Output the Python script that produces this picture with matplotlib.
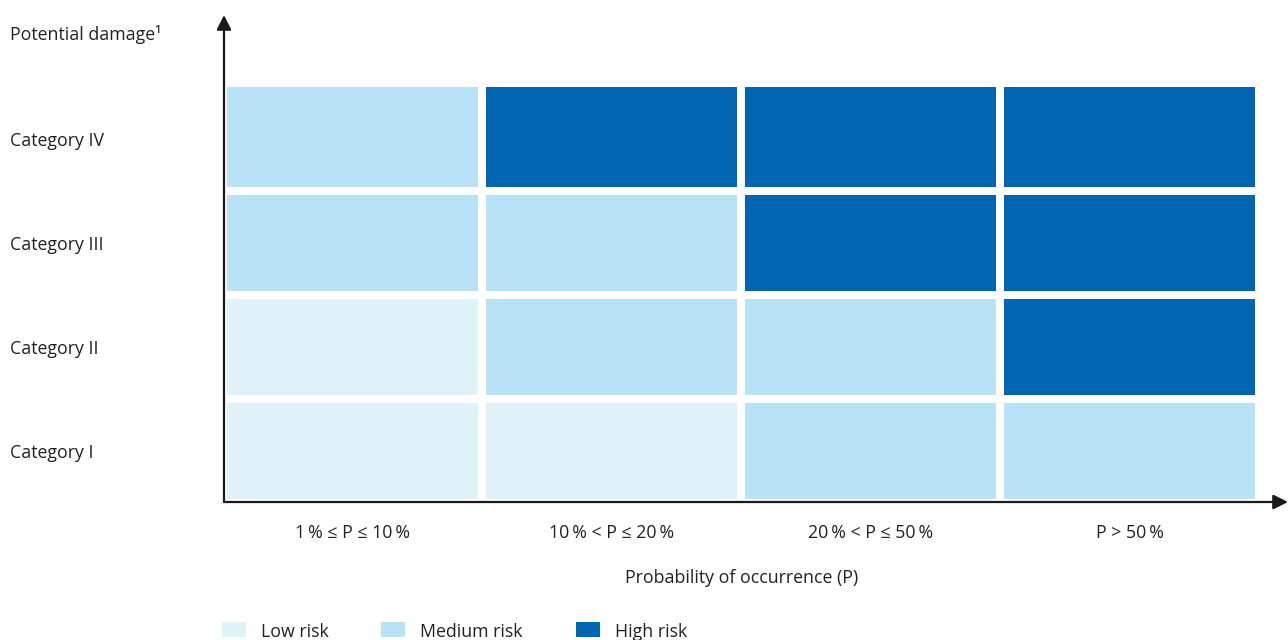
import matplotlib
matplotlib.use("Agg")
import matplotlib.pyplot as plt
from matplotlib.patches import Rectangle

plt.rcParams['font.family'] = ['Open Sans', 'DejaVu Sans']

categories = ["Category I", "Category II", "Category III", "Category IV"]
prob_labels = ["1\u2009% \u2264 P \u2264 10\u2009%", "10\u2009% < P \u2264 20\u2009%",
               "20\u2009% < P \u2264 50\u2009%", "P > 50\u2009%"]
# risk level per category (rows bottom->top) and probability column: 0 low, 1 medium, 2 high
risk = [
    [0, 0, 1, 1],
    [0, 1, 1, 2],
    [1, 1, 2, 2],
    [1, 2, 2, 2],
]
risk_names = ["Low risk", "Medium risk", "High risk"]
risk_colors = ["#dff1f9", "#b8e3f7", "#0066b3"]

W, H = 1288, 640
fig = plt.figure(figsize=(W / 100, H / 100), dpi=100)
x0, y0, x1, y1 = 224, 502, 1288, 15
ax = fig.add_axes([x0 / W, 1 - y0 / H, (x1 - x0) / W, (y0 - y1) / H])
ax.set_xlim(0, (x1 - x0) / 259)
ax.set_ylim(0, (y0 - y1) / 104)
for s in ax.spines.values():
    s.set_visible(False)
ax.set_xticks([])
ax.set_yticks([])

for i, row in enumerate(risk):
    for j, lvl in enumerate(row):
        ax.bar(j + 0.012, 0.925 + (0.04 if i == 3 else 0), width=0.97, bottom=i + 0.03,
               align='edge', color=risk_colors[lvl], linewidth=0)

tc = "#222222"
fs = 12.8
for j, lab in enumerate(prob_labels):
    ax.text(j + 0.497, -0.30, lab, ha='center', va='center', fontsize=fs, color=tc)
ax.text(2.0, -0.73, "Probability of occurrence (P)", ha='center', va='center',
        fontsize=fs, color=tc)
for i, lab in enumerate(categories):
    fig.text(10 / W, 1 - (453 - 104 * i) / H, lab, ha='left', va='center',
             fontsize=fs, color=tc)
fig.text(10 / W, 1 - 34 / H, "Potential damage\u00b9", ha='left', va='center',
         fontsize=fs, color=tc)

ak = dict(arrowstyle='-|>', mutation_scale=22, lw=1.6, color='#1a1a1a',
          shrinkA=0, shrinkB=0)
ax.annotate('', xy=(0, 1.0), xytext=(0, 0), xycoords='axes fraction',
            textcoords='axes fraction', arrowprops=ak, annotation_clip=False)
ax.annotate('', xy=(1.0, 0), xytext=(0, 0), xycoords='axes fraction',
            textcoords='axes fraction', arrowprops=ak, annotation_clip=False)

leg_x = [222, 381, 576]
for k, name in enumerate(risk_names):
    fig.add_artist(Rectangle((leg_x[k] / W, 1 - 637 / H), 24 / W, 15 / H,
                             transform=fig.transFigure, color=risk_colors[k], lw=0))
    fig.text((leg_x[k] + 39) / W, 1 - 632 / H, name, ha='left', va='center',
             fontsize=fs, color=tc)

fig.savefig("out.png", dpi=100, facecolor='white')
